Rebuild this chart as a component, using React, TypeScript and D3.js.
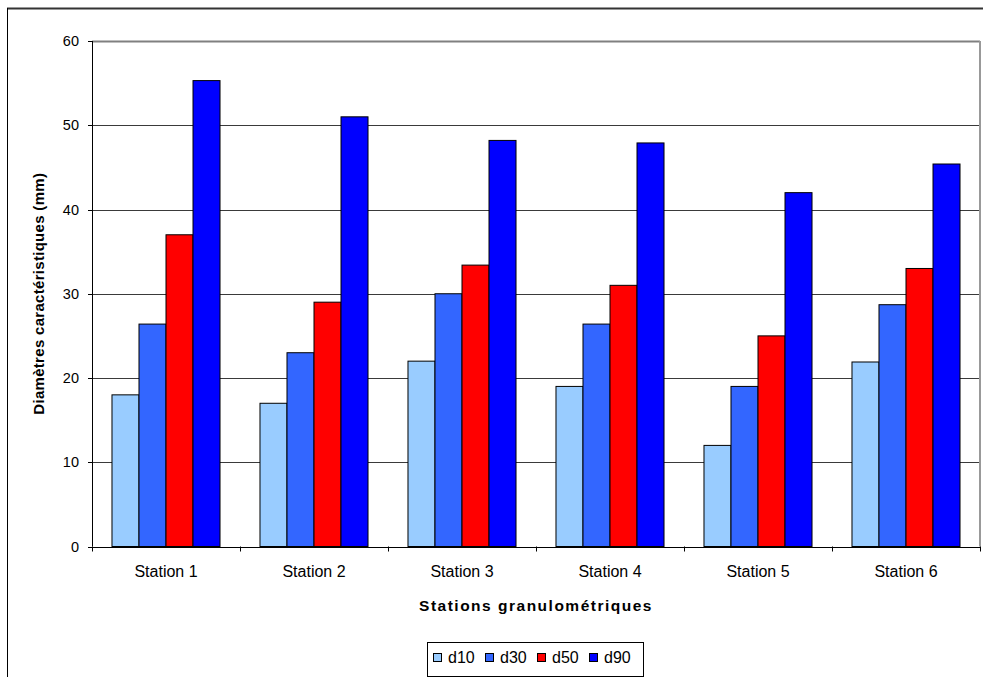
import React from "react";
import * as d3 from "d3";

const stations = ["Station 1", "Station 2", "Station 3", "Station 4", "Station 5", "Station 6"];
const seriesNames = ["d10", "d30", "d50", "d90"];
const d10 = [18, 17, 22, 19, 12, 21.9];
const d30 = [26.4, 23, 30, 26.4, 19, 28.7];
const d50 = [37, 29, 33.4, 31, 25, 33];
const d90 = [55.3, 51, 48.2, 47.9, 42, 45.4];
const seriesColors = ["#99CCFF", "#3366FF", "#FF0000", "#0000FF"];
const yTicks = [0, 10, 20, 30, 40, 50, 60];

const values = [d10, d30, d50, d90];

const W = 983;
const H = 677;
const plot = { left: 92, right: 980, top: 41, bottom: 546.5 };
const FONT = "Arial, 'Liberation Sans', sans-serif";

export default function App() {
  const x0 = d3.scaleBand<string>().domain(stations).range([plot.left, plot.right]).padding(0);
  const x1 = d3
    .scaleBand<string>()
    .domain(seriesNames)
    .range([0, x0.bandwidth()])
    .paddingInner(0)
    .paddingOuter(0.74);
  const y = d3.scaleLinear().domain([0, 60]).range([plot.bottom, plot.top]);

  const boundaries = stations.map((s) => x0(s) as number).concat([plot.right]);

  return (
    <svg
      width={W}
      height={H}
      style={{ position: "absolute", left: 0, top: 0, display: "block", background: "#fff" }}
      fontFamily={FONT}
    >
      {/* chart area frame */}
      <line x1={7} y1={8.5} x2={W} y2={8.5} stroke="#333" strokeWidth={2} />
      <line x1={7.5} y1={8} x2={7.5} y2={H} stroke="#000" strokeWidth={1} />

      {/* gridlines */}
      {yTicks.slice(1, -1).map((t) => (
        <line
          key={"g" + t}
          x1={plot.left}
          x2={plot.right}
          y1={Math.round(y(t)) + 0.5}
          y2={Math.round(y(t)) + 0.5}
          stroke="#3a3a3a"
          strokeWidth={1}
        />
      ))}
      {/* plot border top & right */}
      <line x1={plot.left} x2={plot.right} y1={Math.round(plot.top) + 0.5} y2={Math.round(plot.top) + 0.5} stroke="#808080" strokeWidth={2} />
      <line x1={plot.right} x2={plot.right} y1={plot.top} y2={plot.bottom} stroke="#999" strokeWidth={2} />

      {/* bars */}
      {stations.map((s, i) => (
        <g key={s} transform={`translate(${x0(s)},0)`}>
          {seriesNames.map((name, k) => {
            const v = values[k][i];
            return (
              <rect
                key={name}
                x={x1(name) as number}
                y={y(v)}
                width={x1.bandwidth()}
                height={y(0) - y(v)}
                fill={seriesColors[k]}
                stroke="#000"
                strokeWidth={1}
              />
            );
          })}
        </g>
      ))}

      {/* y axis */}
      <line x1={plot.left + 0.5} x2={plot.left + 0.5} y1={plot.top} y2={plot.bottom} stroke="#000" />
      {yTicks.map((t) => (
        <g key={"y" + t}>
          <line x1={plot.left - 4} x2={plot.left} y1={Math.round(y(t)) + 0.5} y2={Math.round(y(t)) + 0.5} stroke="#000" />
          <text x={79} y={y(t)} dy="0.35em" textAnchor="end" fontSize={14.5} fill="#000">
            {t}
          </text>
        </g>
      ))}

      {/* x axis */}
      <line x1={plot.left} x2={plot.right} y1={Math.round(plot.bottom) + 0.5} y2={Math.round(plot.bottom) + 0.5} stroke="#000" />
      {boundaries.map((bx, i) => (
        <line key={"xt" + i} x1={Math.round(bx) + 0.5} x2={Math.round(bx) + 0.5} y1={plot.bottom} y2={plot.bottom + 5} stroke="#000" />
      ))}
      {stations.map((s) => (
        <text
          key={"xl" + s}
          x={(x0(s) as number) + x0.bandwidth() / 2}
          y={577}
          textAnchor="middle"
          fontSize={16}
          fill="#000"
        >
          {s}
        </text>
      ))}

      {/* axis titles */}
      <text
        x={(plot.left + plot.right) / 2}
        y={611}
        textAnchor="middle"
        fontSize={15.5}
        fontWeight="bold"
        letterSpacing={1.5}
        fill="#000"
      >
        Stations granulométriques
      </text>
      <text
        transform={`translate(44,${(plot.top + plot.bottom) / 2}) rotate(-90)`}
        textAnchor="middle"
        fontSize={15}
        fontWeight="bold"
        letterSpacing={0.3}
        fill="#000"
      >
        Diamètres caractéristiques (mm)
      </text>

      {/* legend */}
      <rect x={427.5} y={642.5} width={216} height={34} fill="#fff" stroke="#000" strokeWidth={1} />
      {seriesNames.map((name, k) => {
        const lx = 433 + k * 52;
        return (
          <g key={"lg" + name}>
            <rect x={lx + 0.5} y={653.5} width={8} height={8} fill={seriesColors[k]} stroke="#000" strokeWidth={1} />
            <text x={lx + 15} y={663} fontSize={16} fill="#000">
              {name}
            </text>
          </g>
        );
      })}
    </svg>
  );
}
